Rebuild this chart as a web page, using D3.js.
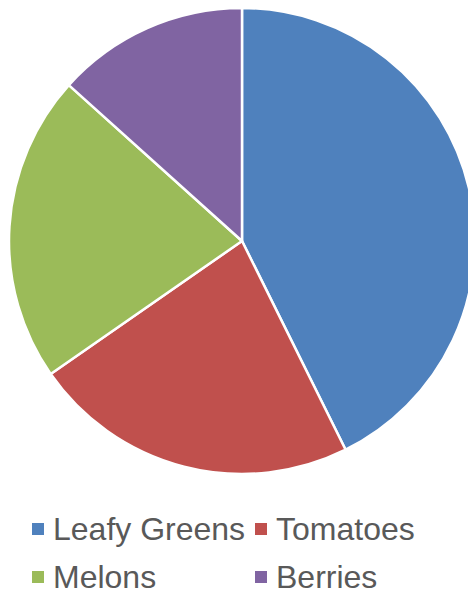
<!DOCTYPE html>
<html lang="en">
<head>
<meta charset="UTF-8">
<script src="https://d3js.org/d3.v7.min.js"></script>
<title>Pie</title>
<style>
  body { margin: 0; background: #fff; }
</style>
</head>
<body>
<div id="chart"></div>
<script>
  var categories = ["Leafy Greens", "Tomatoes", "Melons", "Berries"];
  var values = [3.2, 1.7, 1.6, 1.0];
  var colors = ["#4F81BD", "#C0504D", "#9BBB59", "#8064A2"];

  var width = 468, height = 592;
  var cx = 242, cy = 241, radius = 233;

  var svg = d3.select("#chart").append("svg")
    .attr("width", width).attr("height", height);

  var data = categories.map(function (c, i) { return { name: c, value: values[i] }; });

  var pie = d3.pie().value(function (d) { return d.value; }).sort(null);
  var arc = d3.arc().innerRadius(0).outerRadius(radius);
  var color = d3.scaleOrdinal().domain(categories).range(colors);

  svg.append("g").attr("transform", "translate(" + cx + "," + cy + ")")
    .selectAll("path").data(pie(data)).enter().append("path")
    .attr("d", arc)
    .attr("fill", function (d) { return color(d.data.name); })
    .attr("stroke", "#fff")
    .attr("stroke-width", 2.5)
    .attr("stroke-linejoin", "round");

  // legend, 2 columns
  var colX = [32, 255], rowY = [540, 588];
  var legend = svg.append("g");
  var items = legend.selectAll("g").data(categories).enter().append("g")
    .attr("transform", function (d, i) {
      return "translate(" + colX[i % 2] + "," + rowY[Math.floor(i / 2)] + ")";
    });
  items.append("rect")
    .attr("x", 0).attr("y", -17).attr("width", 12).attr("height", 12)
    .attr("fill", function (d) { return color(d); });
  items.append("text")
    .attr("x", 21).attr("y", 0)
    .attr("font-family", "Liberation Sans, Arial, sans-serif")
    .attr("font-size", 32)
    .attr("fill", "#595959")
    .text(function (d) { return d; });
</script>
</body>
</html>
